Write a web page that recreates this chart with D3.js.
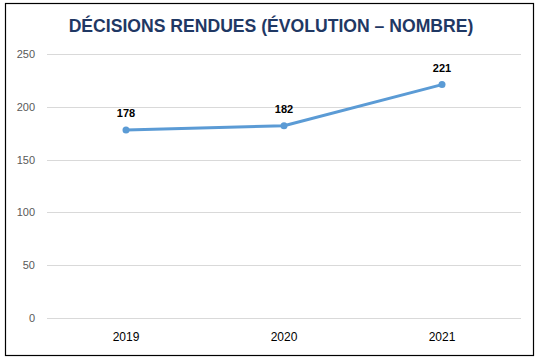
<!DOCTYPE html>
<html>
<head>
<meta charset="utf-8">
<script src="https://cdn.jsdelivr.net/npm/d3@7"></script>
<style>
  body { margin: 0; background: #fff; }
  svg { display: block; }
</style>
</head>
<body>
<div id="chart"></div>
<script>
const years = ['2019', '2020', '2021']
const decisions = [178, 182, 221]
const yTicks = [0, 50, 100, 150, 200, 250]

const width = 542
const height = 362
const margin = { top: 54, right: 21, bottom: 44, left: 47 }

const svg = d3.select('#chart')
  .append('svg')
  .attr('width', width)
  .attr('height', height)

// frame
svg.append('rect')
  .attr('x', 5.5).attr('y', 3.5)
  .attr('width', 528).attr('height', 352)
  .attr('fill', 'none')
  .attr('stroke', '#000')
  .attr('stroke-width', 1.2)

svg.append('text')
  .attr('x', 271)
  .attr('y', 32)
  .attr('text-anchor', 'middle')
  .attr('font-family', 'Liberation Sans, Arial, sans-serif')
  .attr('font-weight', 'bold')
  .attr('font-size', '17.6px')
  .attr('fill', '#1F3864')
  .text('DÉCISIONS RENDUES (ÉVOLUTION – NOMBRE)')

const x = d3.scaleBand()
  .domain(years)
  .range([margin.left, width - margin.right])

const y = d3.scaleLinear()
  .domain([0, 250])
  .range([height - margin.bottom, margin.top])

// grid
svg.append('g')
  .selectAll('line')
  .data(yTicks)
  .join('line')
    .attr('x1', margin.left)
    .attr('x2', width - margin.right)
    .attr('y1', d => Math.round(y(d)) + 0.5)
    .attr('y2', d => Math.round(y(d)) + 0.5)
    .attr('stroke', '#d9d9d9')

function yAxis(g){
  g.attr('transform', `translate(${margin.left - 12}, 0)`)
    .call(d3.axisLeft(y).tickValues(yTicks).tickSize(0).tickPadding(0))
    .call(g => g.select('.domain').remove())
    .attr('font-family', 'Liberation Sans, Arial, sans-serif')
    .attr('font-size', '11px')
    .selectAll('text').attr('fill', '#595959')
}

function xAxis(g){
  g.attr('transform', `translate(0, ${height - margin.bottom})`)
    .call(d3.axisBottom(x).tickSize(0).tickPadding(14))
    .call(g => g.select('.domain').remove())
    .attr('font-family', 'Liberation Sans, Arial, sans-serif')
    .attr('font-size', '12px')
    .selectAll('text').attr('fill', '#000')
}

svg.append('g').call(yAxis)
svg.append('g').call(xAxis)

const cx = (d, i) => x(years[i]) + x.bandwidth() / 2

const line = d3.line()
  .x((d, i) => cx(d, i))
  .y(d => y(d))

svg.append('path')
  .datum(decisions)
  .attr('d', line)
  .attr('fill', 'none')
  .attr('stroke', '#5B9BD5')
  .attr('stroke-width', 3)
  .attr('stroke-linejoin', 'round')
  .attr('stroke-linecap', 'round')

svg.append('g')
  .selectAll('circle')
  .data(decisions)
  .join('circle')
    .attr('cx', cx)
    .attr('cy', d => y(d))
    .attr('r', 3.5)
    .attr('fill', '#5B9BD5')

svg.append('g')
  .selectAll('text')
  .data(decisions)
  .join('text')
    .attr('x', cx)
    .attr('y', d => y(d) - 13)
    .attr('text-anchor', 'middle')
    .attr('font-family', 'Liberation Sans, Arial, sans-serif')
    .attr('font-weight', 'bold')
    .attr('font-size', '11px')
    .attr('fill', '#000')
    .text(d => d)
</script>
</body>
</html>
